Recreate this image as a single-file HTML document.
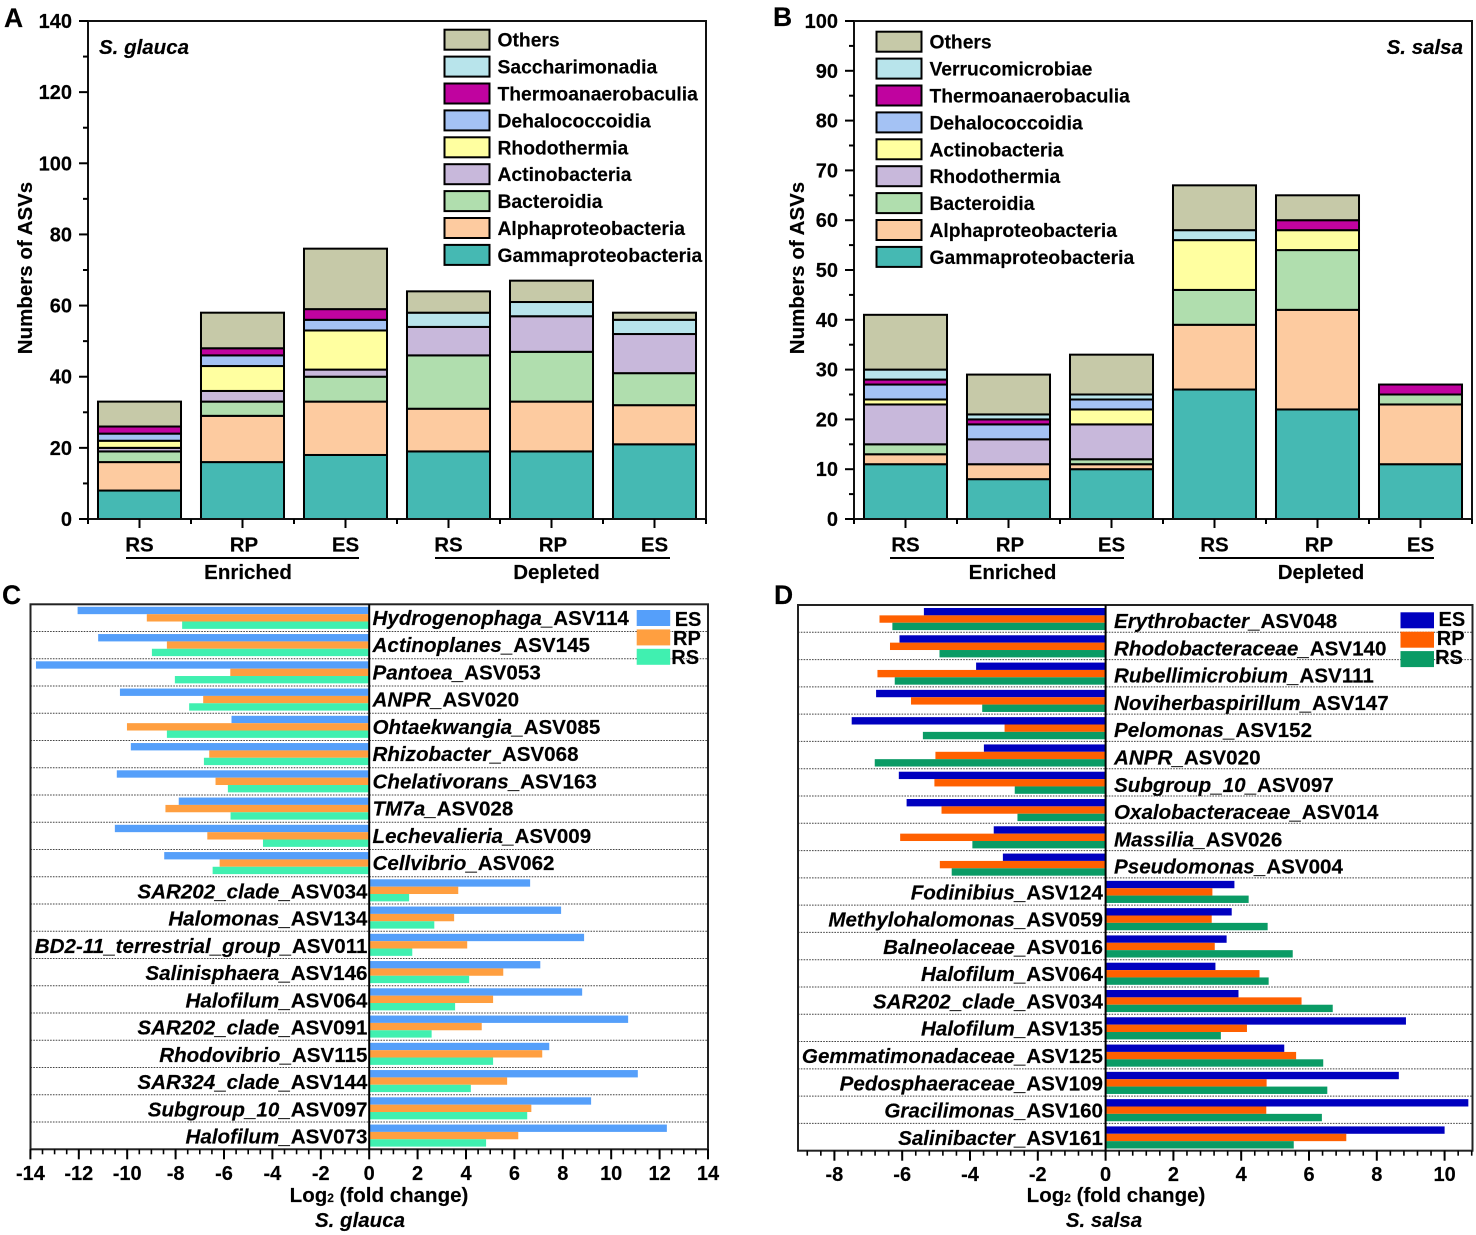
<!DOCTYPE html>
<html lang="en">
<head>
<meta charset="utf-8">
<title>ASV composition and log2 fold change</title>
<style>
html,body{margin:0;padding:0;background:#fff;width:1476px;height:1235px;overflow:hidden}
svg{display:block;font-family:"Liberation Sans",Arial,sans-serif;font-weight:bold;fill:#000}
text{fill:#000;stroke:#000;stroke-width:0.15px}
.tick{font-size:20px}
.lab{font-size:20.5px}
.leg{font-size:19.3px}
.row{font-size:20.6px}
.panel{font-size:26.5px}
.it{font-style:italic}
.up{font-style:normal}
</style>
</head>
<body>
<svg id="figure" xmlns="http://www.w3.org/2000/svg" width="1476" height="1235" viewBox="0 0 1476 1235">
  <g id="panel-a">
    <text class="panel" x="4" y="27">A</text>
    <text class="lab it" x="99" y="54">S. glauca</text>
    <text class="lab" transform="translate(32,268) rotate(-90)" text-anchor="middle">Numbers of ASVs</text>
    <text class="lab" x="248" y="579" text-anchor="middle">Enriched</text>
    <text class="lab" x="556.5" y="579" text-anchor="middle">Depleted</text>
    <line x1="126" x2="359" y1="558" y2="558" stroke="#000" stroke-width="2"/>
    <line x1="435" x2="670" y1="558" y2="558" stroke="#000" stroke-width="2"/>
  </g>
  <g id="panel-b">
    <text class="panel" x="773" y="26">B</text>
    <text class="lab it" x="1463" y="54" text-anchor="end">S. salsa</text>
    <text class="lab" transform="translate(804,268) rotate(-90)" text-anchor="middle">Numbers of ASVs</text>
    <text class="lab" x="1012.5" y="579" text-anchor="middle">Enriched</text>
    <text class="lab" x="1321" y="579" text-anchor="middle">Depleted</text>
    <line x1="890" x2="1124" y1="558" y2="558" stroke="#000" stroke-width="2"/>
    <line x1="1199" x2="1434" y1="558" y2="558" stroke="#000" stroke-width="2"/>
  </g>
  <g id="panel-c">
    <text class="panel" x="2" y="604">C</text>
    <text class="lab" x="379" y="1202" text-anchor="middle">Log<tspan font-size="12">2</tspan> (fold change)</text>
    <text class="lab it" x="360" y="1227" text-anchor="middle">S. glauca</text>
  </g>
  <g id="panel-d">
    <text class="panel" x="774" y="604">D</text>
    <text class="lab" x="1116" y="1202" text-anchor="middle">Log<tspan font-size="12">2</tspan> (fold change)</text>
    <text class="lab it" x="1104" y="1227" text-anchor="middle">S. salsa</text>
  </g>
</svg>
<script>
// ---------- Panel A data ----------
const groupLabels = ['RS','RP','ES','RS','RP','ES'];
const stackTicksA = [0,20,40,60,80,100,120,140];
const stackTicksB = [0,10,20,30,40,50,60,70,80,90,100];
const legendA = ['Others','Saccharimonadia','Thermoanaerobaculia','Dehalococcoidia','Rhodothermia','Actinobacteria','Bacteroidia','Alphaproteobacteria','Gammaproteobacteria'];
const legendB = ['Others','Verrucomicrobiae','Thermoanaerobaculia','Dehalococcoidia','Actinobacteria','Rhodothermia','Bacteroidia','Alphaproteobacteria','Gammaproteobacteria'];

const aGamma  = [8,16,18,19,19,21];
const aAlpha  = [8,13,15,12,14,11];
const aBact   = [3,4,7,15,14,9];
const aActino = [1,3,2,8,10,11];
const aRhodo  = [2,7,11,0,0,0];
const aDehal  = [2,3,3,0,0,0];
const aThermo = [2,2,3,0,0,0];
const aSacch  = [0,0,0,4,4,4];
const aOthers = [7,10,17,6,6,2];

// ---------- Panel B data ----------
const bGamma  = [11,8,10,26,22,11];
const bAlpha  = [2,3,1,13,20,12];
const bBact   = [2,0,1,7,12,2];
const bRhodo  = [8,5,7,0,0,0];
const bActino = [1,0,3,10,4,0];
const bDehal  = [3,3,2,0,0,0];
const bThermo = [1,1,0,0,2,2];
const bVerru  = [2,1,1,2,0,0];
const bOthers = [11,8,8,9,5,0];

// ---------- Panel C data ----------
const cNames = ['Hydrogenophaga_ASV114','Actinoplanes_ASV145','Pantoea_ASV053','ANPR_ASV020','Ohtaekwangia_ASV085','Rhizobacter_ASV068','Chelativorans_ASV163','TM7a_ASV028','Lechevalieria_ASV009','Cellvibrio_ASV062','SAR202_clade_ASV034','Halomonas_ASV134','BD2-11_terrestrial_group_ASV011','Salinisphaera_ASV146','Halofilum_ASV064','SAR202_clade_ASV091','Rhodovibrio_ASV115','SAR324_clade_ASV144','Subgroup_10_ASV097','Halofilum_ASV073'];
const cES = [-12.05,-11.2,-13.77,-10.3,-5.69,-9.85,-10.43,-7.87,-10.51,-8.47,6.65,7.93,8.88,7.07,8.8,10.7,7.44,11.1,9.17,12.3];
const cRP = [-9.19,-8.36,-5.74,-6.86,-10.01,-6.61,-6.35,-8.42,-6.69,-6.18,3.68,3.51,4.05,5.54,5.12,4.65,7.15,5.7,6.7,6.16];
const cRS = [-7.73,-8.98,-8.03,-7.44,-8.36,-6.83,-5.84,-5.73,-4.39,-6.47,1.65,2.69,1.78,4.13,3.55,2.58,5.12,4.2,6.53,4.83];
const cTicks = [-14,-12,-10,-8,-6,-4,-2,0,2,4,6,8,10,12,14];

// ---------- Panel D data ----------
const dNames = ['Erythrobacter_ASV048','Rhodobacteraceae_ASV140','Rubellimicrobium_ASV111','Noviherbaspirillum_ASV147','Pelomonas_ASV152','ANPR_ASV020','Subgroup_10_ASV097','Oxalobacteraceae_ASV014','Massilia_ASV026','Pseudomonas_ASV004','Fodinibius_ASV124','Methylohalomonas_ASV059','Balneolaceae_ASV016','Halofilum_ASV064','SAR202_clade_ASV034','Halofilum_ASV135','Gemmatimonadaceae_ASV125','Pedosphaeraceae_ASV109','Gracilimonas_ASV160','Salinibacter_ASV161'];
const dES = [-5.36,-6.08,-3.82,-6.77,-7.49,-3.59,-6.1,-5.87,-3.3,-3.03,3.8,3.72,3.57,3.24,3.92,8.86,5.27,8.65,10.7,10.0];
const dRP = [-6.67,-6.36,-6.73,-5.74,-2.98,-5.02,-5.05,-4.84,-6.06,-4.89,3.15,3.13,3.22,4.54,5.78,4.17,5.62,4.75,4.74,7.1];
const dRS = [-6.29,-4.9,-6.22,-3.64,-5.39,-6.81,-2.68,-2.6,-3.93,-4.54,4.22,4.78,5.52,4.81,6.7,3.4,6.42,6.54,6.38,5.55];
const dTicks = [-8,-6,-4,-2,0,2,4,6,8,10];

// ---------- Shared colours ----------
const colOthers='#C6C9A8', colLightBlue='#B8E4EB', colThermo='#C0039F', colDehal='#A4C2F4', colYellow='#FFFFA0', colPurple='#C8B8DB', colBact='#B0DEAE', colAlpha='#FDCBA0', colGamma='#45B9B3';

const NS='http://www.w3.org/2000/svg';
function make(tag, attrs, parent, txt){
  const n=document.createElementNS(NS,tag);
  for(const k in attrs) n.setAttribute(k,attrs[k]);
  if(txt!==undefined) n.textContent=txt;
  parent.appendChild(n);
  return n;
}

function drawStacked(root, o){
  const y=v=>o.bottom-(v/o.yMax)*(o.bottom-o.top);
  const cx=i=>o.left+o.pitch*(i+0.5);
  const width=o.pitch*0.806;
  groupLabels.forEach((g,i)=>{
    let acc=0;
    o.series.forEach((s,k)=>{
      const v=s.values[i];
      if(v<=0) return;
      const el=make('rect',{x:cx(i)-width/2,y:y(acc+v),width:width,height:y(acc)-y(acc+v),fill:s.color,stroke:'#000','stroke-width':2},root);
      
      
      acc+=v;
    });
  });
  const frame=make('rect',{x:o.left,y:o.top,width:o.pitch*6,height:o.bottom-o.top,fill:'none',stroke:'#111','stroke-width':2},root);
  
  
  // y ticks
  o.ticks.forEach((t,i)=>{
    const tk=make('line',{x1:o.left-9,x2:o.left,y1:y(t),y2:y(t),stroke:'#000','stroke-width':2},root);
    
    
    const lb=make('text',{class:'tick',x:o.left-16,y:y(t)+7,'text-anchor':'end'},root,String(t));
    
    
    if(i<o.ticks.length-1){
      const mid=(t+o.ticks[i+1])/2;
      const mn=make('line',{x1:o.left-5,x2:o.left,y1:y(mid),y2:y(mid),stroke:'#000','stroke-width':2},root);
      
      
    }
  });
  // x ticks
  for(let i=0;i<=6;i++){
    const xb=o.left+o.pitch*i;
    const tb=make('line',{x1:xb,x2:xb,y1:o.bottom,y2:o.bottom+5,stroke:'#000','stroke-width':2},root);
    
    
  }
  groupLabels.forEach((g,i)=>{
    const tc=make('line',{x1:cx(i),x2:cx(i),y1:o.bottom,y2:o.bottom+9,stroke:'#000','stroke-width':2},root);
    
    
    const lb=make('text',{class:'lab',x:cx(i)+(g==='RP'?1.5:0),y:551.5,'text-anchor':'middle'},root,g);
    
    
  });
  // legend
  o.legend.forEach((name,i)=>{
    const ly=o.legendTop+26.9*i;
    const sw=make('rect',{x:o.legendX,y:ly,width:45,height:20,fill:o.legendColors[i],stroke:'#000','stroke-width':2},root);
    
    
    const tx=make('text',{class:'leg',x:o.legendX+53,y:ly+17},root,name);
    
    
  });
}

drawStacked(document.getElementById('panel-a'),{
  left:88,pitch:103,top:21,bottom:519,yMax:140,ticks:stackTicksA,
  series:[
    {key:'gammaproteobacteria',color:colGamma,values:aGamma},
    {key:'alphaproteobacteria',color:colAlpha,values:aAlpha},
    {key:'bacteroidia',color:colBact,values:aBact},
    {key:'actinobacteria',color:colPurple,values:aActino},
    {key:'rhodothermia',color:colYellow,values:aRhodo},
    {key:'dehalococcoidia',color:colDehal,values:aDehal},
    {key:'thermoanaerobaculia',color:colThermo,values:aThermo},
    {key:'saccharimonadia',color:colLightBlue,values:aSacch},
    {key:'others',color:colOthers,values:aOthers}
  ],
  legend:legendA,legendX:444.5,legendTop:29.7,
  legendColors:[colOthers,colLightBlue,colThermo,colDehal,colYellow,colPurple,colBact,colAlpha,colGamma]
});
drawStacked(document.getElementById('panel-b'),{
  left:854,pitch:103,top:21,bottom:519,yMax:100,ticks:stackTicksB,
  series:[
    {key:'gammaproteobacteria',color:colGamma,values:bGamma},
    {key:'alphaproteobacteria',color:colAlpha,values:bAlpha},
    {key:'bacteroidia',color:colBact,values:bBact},
    {key:'rhodothermia',color:colPurple,values:bRhodo},
    {key:'actinobacteria',color:colYellow,values:bActino},
    {key:'dehalococcoidia',color:colDehal,values:bDehal},
    {key:'thermoanaerobaculia',color:colThermo,values:bThermo},
    {key:'verrucomicrobiae',color:colLightBlue,values:bVerru},
    {key:'others',color:colOthers,values:bOthers}
  ],
  legend:legendB,legendX:876.5,legendTop:31.7,
  legendColors:[colOthers,colLightBlue,colThermo,colDehal,colYellow,colPurple,colBact,colAlpha,colGamma]
});

function drawDiverging(root,o){
  const x=v=>o.zero+v*o.perUnit;
  const pitch=(o.bottom-o.top)/o.names.length;
  const h=pitch*0.27;
  const labels=['ES','RP','RS'];
  const vals=[o.es,o.rp,o.rs];
  // bars
  o.names.forEach((name,r)=>{
    const rowTop=o.top+pitch*r;
    vals.forEach((arr,s)=>{
      const v=arr[r];
      const barY=rowTop+o.barPad+h*s;
      const el=make('rect',{x:Math.min(x(0),x(v)),y:barY,width:Math.abs(x(v)-x(0)),height:h,fill:o.colors[s]},root);
      
      
    });
    const neg=vals[0][r]<0;
    const cut=name.lastIndexOf('_ASV');
    const t=make('text',{class:'row',x:neg?o.negX:o.posX,y:rowTop+pitch/2+(neg?o.negDy:o.posDy),'text-anchor':neg?'start':'end'},root);
    
    
    make('tspan',{class:'it'},t,name.slice(0,cut+1));
    make('tspan',{class:'up'},t,name.slice(cut+1));
    if(r<o.names.length-1){
      const gy=rowTop+pitch;
      const d=make('line',{x1:o.left,x2:o.right,y1:gy,y2:gy,stroke:'#444','stroke-width':1,'stroke-dasharray':'1.6 1.2'},root);
      
      
    }
  });
  const fr=make('rect',{x:o.left,y:o.top,width:o.right-o.left,height:o.bottom-o.top,fill:'none',stroke:'#222','stroke-width':2},root);
  
  
  const zl=make('line',{x1:x(0),x2:x(0),y1:o.top,y2:o.bottom,stroke:'#000','stroke-width':2},root);
  
  
  // ticks
  const lastIdx=Math.round((o.minorMax-o.minorMin)/o.minorStep);
  for(let i=0;i<=lastIdx;i++){
    const v=o.minorMin+i*o.minorStep;
    const mn=make('line',{x1:x(v),x2:x(v),y1:o.bottom,y2:o.bottom+5,stroke:'#000','stroke-width':1.6},root);
    
    
  }
  o.ticks.forEach(v=>{
    const tk=make('line',{x1:x(v),x2:x(v),y1:o.bottom,y2:o.bottom+10,stroke:'#000','stroke-width':2},root);
    
    
    const lb=make('text',{class:'tick',x:x(v),y:o.tickBase,'text-anchor':'middle'},root,String(v));
    
    
  });
  // legend
  labels.forEach((name,i)=>{
    const ly=o.legY+19.4*i;
    const sw=make('rect',{x:o.legX,y:ly,width:33.5,height:16,fill:o.colors[i]},root);
    
    
    const tx=make('text',{class:'tick',x:o.legX+38-1.7*i,y:626+19*i},root,name);
    
    
  });
}

drawDiverging(document.getElementById('panel-c'),{
  names:cNames,es:cES,rp:cRP,rs:cRS,ticks:cTicks,
  colors:['#559FFA','#FF9F40','#40F0B0'],
  zero:369.2,perUnit:24.2,left:30.5,right:708,top:604.3,bottom:1149.3,barPad:2.5,
  negX:372.5,posX:367.5,negDy:7,posDy:8,tickBase:1180,
  minorMin:-14,minorMax:14,minorStep:0.5,legX:636.7,legY:610
});
drawDiverging(document.getElementById('panel-d'),{
  names:dNames,es:dES,rp:dRP,rs:dRS,ticks:dTicks,
  colors:['#0000BF','#FF6000','#0A9B65'],
  zero:1105.6,perUnit:33.9,left:798,right:1472.5,top:605,bottom:1150.7,barPad:3,
  negX:1114,posX:1103,negDy:9.4,posDy:7.8,tickBase:1181,
  minorMin:-8.8,minorMax:10.8,minorStep:0.4,legX:1400.5,legY:612.3
});
</script>
</body>
</html>
